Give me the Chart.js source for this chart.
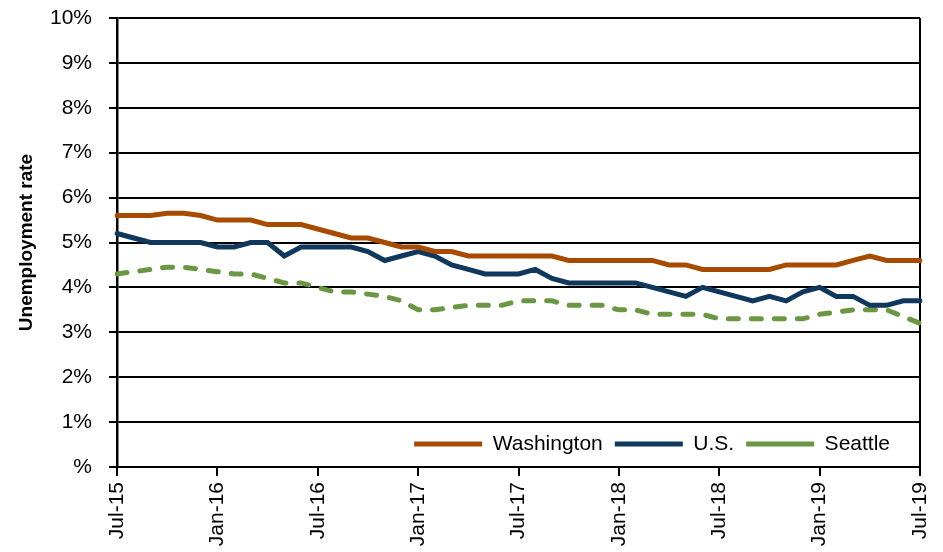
<!DOCTYPE html>
<html>
<head>
<meta charset="utf-8">
<script src="https://cdn.jsdelivr.net/npm/chart.js@4.4.1/dist/chart.umd.min.js"></script>
<style>
  html, body { margin: 0; padding: 0; background: #fff; }
  #wrap { position: relative; width: 943px; height: 552px; }
</style>
</head>
<body>
<div id="wrap"><canvas id="chart"></canvas></div>
<script>
// months Jul-15 .. Jul-19
const months = [
  'Jul-15','Aug-15','Sep-15','Oct-15','Nov-15','Dec-15',
  'Jan-16','Feb-16','Mar-16','Apr-16','May-16','Jun-16',
  'Jul-16','Aug-16','Sep-16','Oct-16','Nov-16','Dec-16',
  'Jan-17','Feb-17','Mar-17','Apr-17','May-17','Jun-17',
  'Jul-17','Aug-17','Sep-17','Oct-17','Nov-17','Dec-17',
  'Jan-18','Feb-18','Mar-18','Apr-18','May-18','Jun-18',
  'Jul-18','Aug-18','Sep-18','Oct-18','Nov-18','Dec-18',
  'Jan-19','Feb-19','Mar-19','Apr-19','May-19','Jun-19',
  'Jul-19'
];

const washington = [
  5.6, 5.6, 5.6, 5.65, 5.65, 5.6,
  5.5, 5.5, 5.5, 5.4, 5.4, 5.4,
  5.3, 5.2, 5.1, 5.1, 5.0, 4.9,
  4.9, 4.8, 4.8, 4.7, 4.7, 4.7,
  4.7, 4.7, 4.7, 4.6, 4.6, 4.6,
  4.6, 4.6, 4.6, 4.5, 4.5, 4.4,
  4.4, 4.4, 4.4, 4.4, 4.5, 4.5,
  4.5, 4.5, 4.6, 4.7, 4.6, 4.6,
  4.6
];

const us = [
  5.2, 5.1, 5.0, 5.0, 5.0, 5.0,
  4.9, 4.9, 5.0, 5.0, 4.7, 4.9,
  4.9, 4.9, 4.9, 4.8, 4.6, 4.7,
  4.8, 4.7, 4.5, 4.4, 4.3, 4.3,
  4.3, 4.4, 4.2, 4.1, 4.1, 4.1,
  4.1, 4.1, 4.0, 3.9, 3.8, 4.0,
  3.9, 3.8, 3.7, 3.8, 3.7, 3.9,
  4.0, 3.8, 3.8, 3.6, 3.6, 3.7,
  3.7
];

const seattle = [
  4.3, 4.35, 4.4, 4.45, 4.45, 4.4,
  4.35, 4.3, 4.3, 4.2, 4.1, 4.1,
  4.0, 3.9, 3.9, 3.85, 3.8, 3.7,
  3.5, 3.5, 3.55, 3.6, 3.6, 3.6,
  3.7, 3.7, 3.7, 3.6, 3.6, 3.6,
  3.5, 3.5, 3.4, 3.4, 3.4, 3.4,
  3.3, 3.3, 3.3, 3.3, 3.3, 3.3,
  3.4, 3.45, 3.5, 3.5, 3.5, 3.35,
  3.2
];

const FONT = "'Liberation Sans', Arial, sans-serif";
const X_AXIS_HEIGHT = 85;

// put the legend inside the plot, bottom right
const legendInside = {
  id: 'legendInside',
  afterLayout(chart) {
    const lg = chart.legend;
    const h = lg.height;
    lg.top = 444 - lg.options.labels.padding - 10.5;
    lg.bottom = lg.top + h;
    lg.right = 902;
    lg.left = lg.right - lg.width;
    // give the x labels their full room back (they get clipped to the scale box)
    const x = chart.scales.x;
    x.bottom = x.top + X_AXIS_HEIGHT;
    x.height = X_AXIS_HEIGHT;
  }
};

new Chart(document.getElementById('chart'), {
  type: 'line',
  data: {
    labels: months,
    datasets: [
      {
        label: 'Washington',
        data: washington,
        borderColor: '#A64B00',
        backgroundColor: '#A64B00',
        borderWidth: 5,
        borderCapStyle: 'round',
        pointRadius: 0,
        tension: 0
      },
      {
        label: 'U.S.',
        data: us,
        borderColor: '#10375C',
        backgroundColor: '#10375C',
        borderWidth: 5,
        borderCapStyle: 'round',
        pointRadius: 0,
        tension: 0
      },
      {
        label: 'Seattle',
        data: seattle,
        borderColor: '#6B9644',
        backgroundColor: '#6B9644',
        borderWidth: 5,
        borderDash: [10, 13],
        borderCapStyle: 'round',
        pointRadius: 0,
        tension: 0
      }
    ]
  },
  options: {
    responsive: true,
    maintainAspectRatio: false,
    animation: false,
    layout: { padding: { top: 18, right: 23, left: 0, bottom: 0 } },
    plugins: {
      tooltip: { enabled: false },
      legend: {
        position: 'bottom',
        align: 'end',
        labels: {
          usePointStyle: true,
          pointStyle: 'line',
          pointStyleWidth: 68,
          boxHeight: 21,
          padding: 12,
          color: '#000',
          font: { family: FONT, size: 21 }
        }
      }
    },
    scales: {
      x: {
        afterFit: (scale) => {
          const lg = scale.chart.legend;
          scale.height = X_AXIS_HEIGHT - (lg ? lg.height : 0);
          scale.paddingLeft = 0;
          scale.paddingRight = 0;
        },
        border: { display: true, color: '#000', width: 2 },
        grid: {
          drawOnChartArea: true,
          color: (ctx) => (ctx.index === months.length - 1 ? '#000' : 'rgba(0,0,0,0)'),
          lineWidth: 2,
          tickLength: 9,
          tickWidth: 2,
          tickColor: (ctx) => (ctx.index % 6 === 0 ? '#000' : 'rgba(0,0,0,0)')
        },
        ticks: {
          autoSkip: false,
          minRotation: 90,
          maxRotation: 90,
          padding: 6,
          color: '#000',
          font: { family: FONT, size: 21 },
          callback: function (val, i) {
            return i % 6 === 0 ? this.getLabelForValue(val) : '';
          }
        }
      },
      y: {
        min: 0,
        max: 10,
        afterFit: (scale) => {
          scale.width = 117;
          scale.paddingTop = 0;
          scale.paddingBottom = 0;
        },
        border: { display: true, color: '#000', width: 2.5 },
        grid: {
          color: '#000',
          lineWidth: 2,
          tickLength: 8,
          tickColor: '#000'
        },
        ticks: {
          stepSize: 1,
          padding: 17,
          color: '#000',
          font: { family: FONT, size: 21 },
          callback: (v) => (v === 0 ? '%' : v + '%')
        },
        title: {
          display: true,
          text: 'Unemployment rate',
          color: '#000',
          padding: { top: 15, bottom: 0 },
          font: { family: FONT, size: 19, weight: 'bold' }
        }
      }
    }
  },
  plugins: [legendInside]
});
</script>
</body>
</html>
